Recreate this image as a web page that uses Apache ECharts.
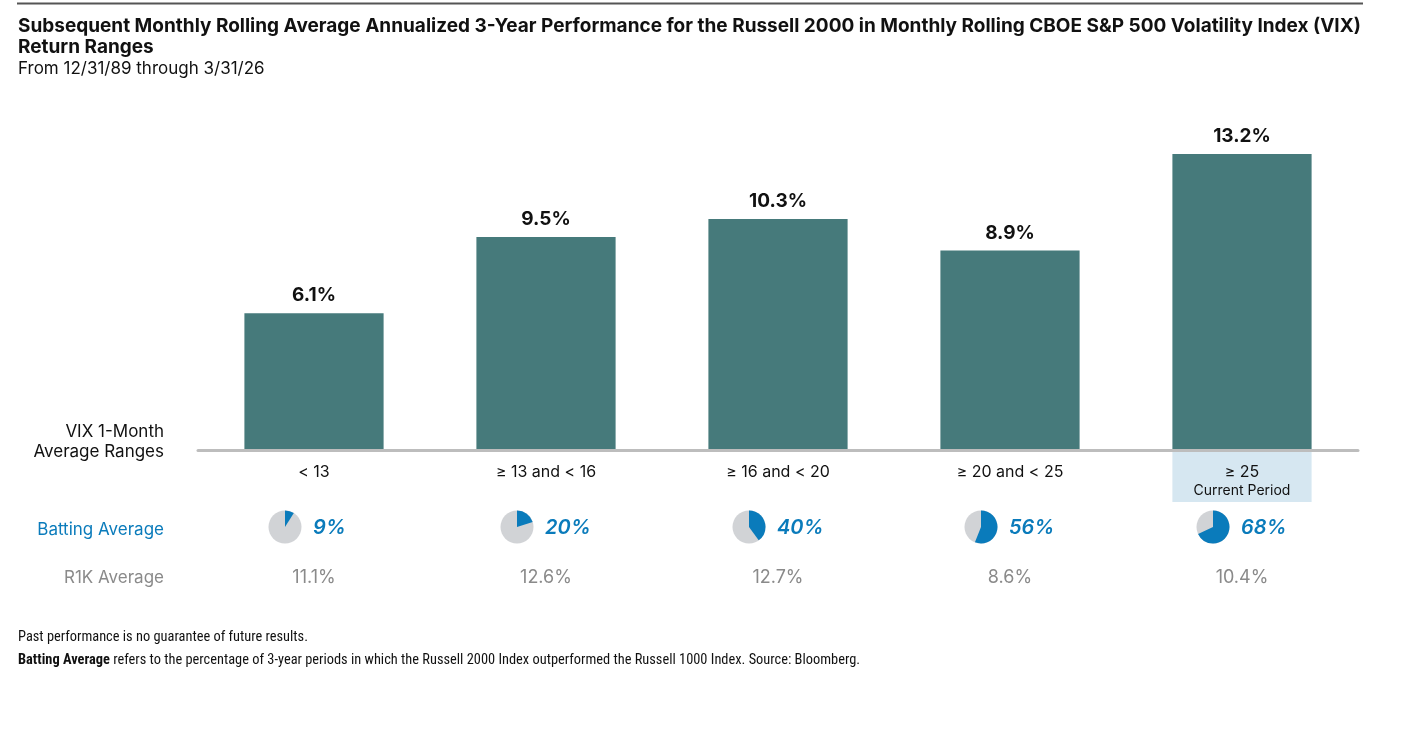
<!DOCTYPE html>
<html>
<head>
<meta charset="utf-8">
<script src="https://cdn.jsdelivr.net/npm/echarts@6/dist/echarts.min.js"></script>
<style>html,body{margin:0;padding:0;background:#fff;}#chart{width:1416px;height:745px;}</style>
</head>
<body>
<div id="chart"></div>
<script>
const categories = ['< 13', '≥ 13 and < 16', '≥ 16 and < 20', '≥ 20 and < 25', '≥ 25'];
const returns = [6.1, 9.5, 10.3, 8.9, 13.2];
const battingAvg = [9, 20, 40, 56, 68];
const r1kAvg = [11.1, 12.6, 12.7, 8.6, 10.4];
const currentPeriodIndex = 4;
const currentPeriodLabel = 'Current Period';
const titleText = 'Subsequent Monthly Rolling Average Annualized 3-Year Performance for the Russell 2000 in Monthly Rolling CBOE S&P 500 Volatility Index (VIX)\nReturn Ranges';
const subtitleText = 'From 12/31/89 through 3/31/26';
const rowLabels = ['VIX 1-Month', 'Average Ranges', 'Batting Average', 'R1K Average'];
const footnote1 = 'Past performance is no guarantee of future results.';
const footnoteBold = 'Batting Average';
const footnoteRest = ' refers to the percentage of 3-year periods in which the Russell 2000 Index outperformed the Russell 1000 Index. Source: Bloomberg.';

const FONT = 'Inter, Lato, sans-serif';
const NARROW = '"Liberation Sans Narrow", "Roboto Condensed", sans-serif';
const BLUE = '#0a7bbb';
const GREY_TXT = '#8a8a8a';
const BAR = '#467a7b';

const chart = echarts.init(document.getElementById('chart'), null, {renderer: 'canvas'});

const extraData = categories.map((c, i) => [i, 0, battingAvg[i], r1kAvg[i], i === currentPeriodIndex ? 1 : 0]);

const option = {
  backgroundColor: '#fff',
  animation: false,
  textStyle: {fontFamily: FONT},
  title: {
    text: titleText,
    subtext: subtitleText,
    left: 18, top: 16,
    itemGap: 0,
    padding: 0,
    textStyle: {fontFamily: FONT, fontSize: 19, fontWeight: 'bold', color: '#111', lineHeight: 21},
    subtextStyle: {fontFamily: FONT, fontSize: 17, color: '#111', lineHeight: 21}
  },
  grid: {left: 198, right: 58, top: 136, bottom: 295, containLabel: false},
  xAxis: {
    type: 'category',
    data: categories,
    z: 10,
    axisLine: {lineStyle: {color: '#bdbdbd', width: 3}},
    axisTick: {show: false},
    axisLabel: {
      interval: 0,
      margin: 12,
      color: '#111',
      fontFamily: FONT,
      fontSize: 16,
      formatter: function (v, i) {
        if (i === currentPeriodIndex) return '{a|' + v + '}\n{b|' + currentPeriodLabel + '}';
        return '{a|' + v + '}';
      },
      rich: {
        a: {fontFamily: FONT, fontSize: 16, color: '#111', lineHeight: 20},
        b: {fontFamily: FONT, fontSize: 14, color: '#111', lineHeight: 18}
      }
    }
  },
  yAxis: {
    type: 'value', min: 0, max: 14,
    show: false,
    splitLine: {show: false}
  },
  series: [
    {
      type: 'bar',
      data: returns,
      barWidth: '60%',
      itemStyle: {color: BAR},
      label: {
        show: true, position: 'top', distance: 8,
        formatter: p => p.value.toFixed(1) + '%',
        fontFamily: FONT, fontSize: 19, fontWeight: 'bold', color: '#111'
      }
    },
    {
      type: 'custom',
      data: extraData,
      encode: {x: 0, y: 1},
      z: 1,
      clip: false,
      renderItem: function (params, api) {
        const idx = api.value(0);
        const pt = api.coord([idx, 0]);
        const x = pt[0], base = pt[1];
        const band = api.size([1, 0])[0];
        const bw = band * 0.6;
        const bat = api.value(2);
        const r1k = api.value(3);
        const hl = api.value(4);
        const children = [];
        if (hl) {
          children.push({type: 'rect', shape: {x: x - bw / 2, y: base + 2, width: bw, height: 50}, style: {fill: '#d6e7f1'}});
        }
        const cx = x - 29, cy = base + 77, r = 16.5;
        children.push({type: 'circle', shape: {cx: cx, cy: cy, r: r}, style: {fill: '#d1d3d6'}});
        children.push({type: 'sector', shape: {cx: cx, cy: cy, r: r, r0: 0, startAngle: -Math.PI / 2, endAngle: -Math.PI / 2 + 2 * Math.PI * bat / 100, clockwise: true}, style: {fill: BLUE}});
        children.push({type: 'text', style: {text: bat + '%', x: x - 1, y: cy + 1, align: 'left', verticalAlign: 'middle', fill: BLUE, fontFamily: FONT, fontSize: 20, fontStyle: 'italic', fontWeight: 600}});
        children.push({type: 'text', style: {text: r1k.toFixed(1) + '%', x: x, y: base + 128, align: 'center', verticalAlign: 'middle', fill: GREY_TXT, fontFamily: FONT, fontSize: 18}});
        return {type: 'group', children: children};
      }
    }
  ],
  graphic: [
    {type: 'line', shape: {x1: 17, y1: 3.5, x2: 1363, y2: 3.5}, style: {stroke: '#555', lineWidth: 2}},
    {type: 'text', style: {text: rowLabels[0], x: 164, y: 432, align: 'right', verticalAlign: 'middle', fill: '#111', fontFamily: FONT, fontSize: 17}},
    {type: 'text', style: {text: rowLabels[1], x: 164, y: 452, align: 'right', verticalAlign: 'middle', fill: '#111', fontFamily: FONT, fontSize: 17}},
    {type: 'text', style: {text: rowLabels[2], x: 164, y: 530, align: 'right', verticalAlign: 'middle', fill: BLUE, fontFamily: FONT, fontSize: 17}},
    {type: 'text', style: {text: rowLabels[3], x: 164, y: 578, align: 'right', verticalAlign: 'middle', fill: GREY_TXT, fontFamily: FONT, fontSize: 17}},
    {type: 'text', style: {text: footnote1, x: 18, y: 637, verticalAlign: 'middle', fill: '#111', fontFamily: NARROW, fontSize: 14.4}},
    {type: 'text', style: {
      text: '{b|' + footnoteBold + '}{r|' + footnoteRest + '}', x: 18, y: 660, verticalAlign: 'middle',
      rich: {
        b: {fill: '#111', fontFamily: NARROW, fontSize: 14.4, fontWeight: 'bold'},
        r: {fill: '#111', fontFamily: NARROW, fontSize: 14.4}
      }
    }}
  ]
};
chart.setOption(option);
</script>
</body>
</html>
